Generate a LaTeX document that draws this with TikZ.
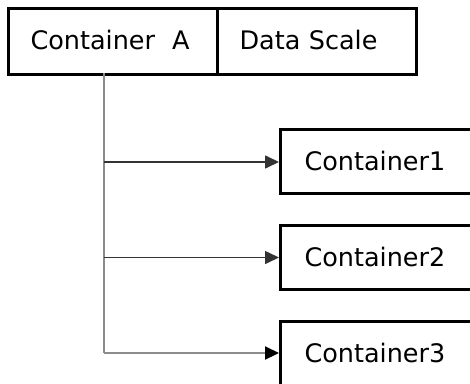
\documentclass[tikz,border=0pt]{standalone}
\usepackage{fontspec}
\setmainfont{DejaVu Sans}
\usetikzlibrary{arrows.meta}
\begin{document}
\begin{tikzpicture}[x=1pt,y=-1pt,
  every node/.style={font=\fontsize{25.5}{30}\selectfont},
  topbox/.style={draw=black,line width=3pt,minimum height=66pt,inner xsep=22pt,inner ysep=0pt,anchor=north west,align=left,text height=18pt,text depth=2pt},
  childbox/.style={draw=black,line width=3pt,minimum height=64pt,anchor=west,inner xsep=24pt,inner ysep=0pt,text width=172pt,align=left,text height=18pt,text depth=0pt},
  trunk/.style={draw=black!45,line width=2.2pt},
  branch/.style={draw=black!80,line width=1.6pt,-{Triangle[length=14pt,width=13pt]}},
  lastbranch/.style={draw=black!45,line width=2.2pt,-{Triangle[length=14pt,width=13pt,color=black]}}]
\clip (0,0) rectangle (470,383);
\fill[white] (0,0) rectangle (470,383);
\node[topbox,text width=165pt] (ca) at (7,7) {Container\ \ A};
\node[topbox,text width=155pt] (ds) at (216,7) {Data Scale};
\node[childbox] (c1) at (279,161) {Container1};
\node[childbox] (c2) at (279,257.5) {Container2};
\node[childbox] (c3) at (279,353) {Container3};
\coordinate (top) at (104,73);
\coordinate (j1) at (104,162);
\coordinate (j2) at (104,257.5);
\coordinate (j3) at (104,353);
\draw[trunk] (top) -- (j3);
\draw[branch] (j1) -- (c1.west |- j1);
\draw[branch] (j2) -- (c2.west |- j2);
\draw[lastbranch] (j3) -- (c3.west |- j3);
\end{tikzpicture}
\end{document}
